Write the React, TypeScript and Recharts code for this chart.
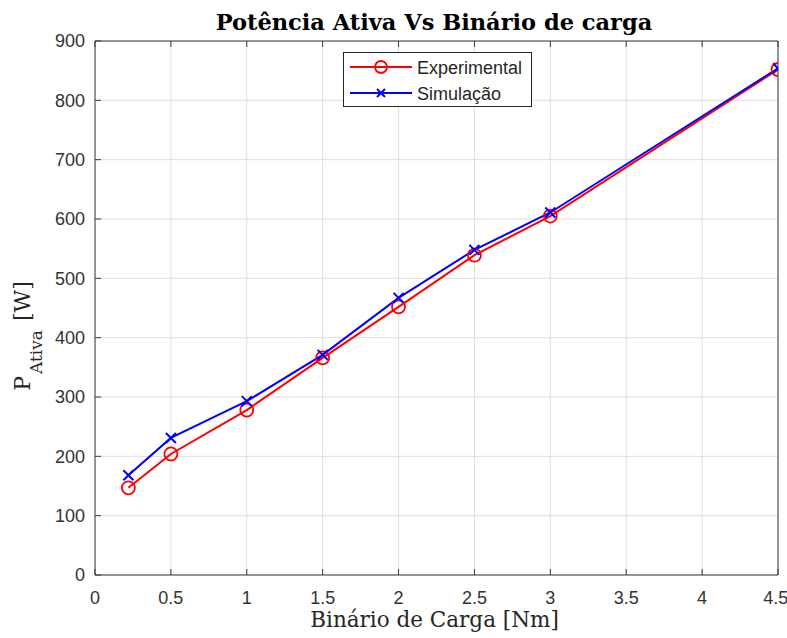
import React from 'react';
import { LineChart, Line, XAxis, YAxis, CartesianGrid, Legend, Label } from 'recharts';

const torque = [0.22, 0.5, 1, 1.5, 2, 2.5, 3, 4.5];
const experimental = [147, 204, 278, 366, 452, 539, 605, 852];
const simulation = [168, 231, 293, 371, 467, 548, 611, 854];
const xTicks = [0, 0.5, 1, 1.5, 2, 2.5, 3, 3.5, 4, 4.5];
const yTicks = [0, 100, 200, 300, 400, 500, 600, 700, 800, 900];
const seriesNames = ['Experimental', 'Simulação'];
const titleText = 'Potência Ativa Vs Binário de carga';
const xLabelText = 'Binário de Carga [Nm]';

const data = torque.map((t, i) => ({ t, exp: experimental[i], sim: simulation[i] }));

const RED = '#ff0000';
const BLUE = '#0000ff';
const AXIS = '#3a3a3a';
const SANS = '"Liberation Sans", Arial, Helvetica, sans-serif';
const SERIF = '"DejaVu Serif", Georgia, serif';

const CircleDot = (props: any) => {
  const { cx, cy } = props;
  if (cx == null || cy == null) return null;
  return <circle cx={cx} cy={cy} r={6.5} fill="none" stroke={RED} strokeWidth={1.8} />;
};

const CrossDot = (props: any) => {
  const { cx, cy } = props;
  if (cx == null || cy == null) return null;
  const s = 5;
  return (
    <path
      d={`M${cx - s},${cy - s}L${cx + s},${cy + s}M${cx - s},${cy + s}L${cx + s},${cy - s}`}
      stroke={BLUE}
      strokeWidth={2}
      fill="none"
    />
  );
};

const LegendBox = () => (
  <svg width={189} height={55} style={{ display: 'block' }}>
    <rect x={0.5} y={0.5} width={188} height={54} fill="#fff" stroke="#262626" strokeWidth={1} />
    <line x1={7} y1={15} x2={69} y2={15} stroke={RED} strokeWidth={2} />
    <circle cx={38} cy={15} r={6} fill="none" stroke={RED} strokeWidth={1.8} />
    <text x={74} y={22} fontFamily={SANS} fontSize={18} fill="#262626">{seriesNames[0]}</text>
    <line x1={7} y1={41} x2={69} y2={41} stroke={BLUE} strokeWidth={2} />
    <path d="M34,37L42,45M34,45L42,37" stroke={BLUE} strokeWidth={2} />
    <text x={74} y={48} fontFamily={SANS} fontSize={18} fill="#262626">{seriesNames[1]}</text>
  </svg>
);

const XLabel = (props: any) => {
  const vb = props.viewBox || {};
  const cx = vb.x + vb.width / 2;
  return (
    <text x={cx - 2} y={vb.y + 52} textAnchor="middle" fontFamily={SERIF} fontSize={21.5} fill="#262626">
      {xLabelText}
    </text>
  );
};

const YLabel = (props: any) => {
  const vb = props.viewBox || {};
  const x = vb.x - 5;
  const y = vb.y + vb.height / 2 + 28;
  return (
    <text
      x={x}
      y={y}
      textAnchor="middle"
      fontFamily={SERIF}
      fontSize={22}
      fill="#262626"
      transform={`rotate(-90, ${x}, ${y})`}
    >
      <tspan>P</tspan>
      <tspan fontSize={17} dy={12} dx={2}>Ativa</tspan>
      <tspan dy={-12} dx={2}> [W]</tspan>
    </text>
  );
};

export default function App() {
  return (
    <div style={{ position: 'absolute', left: 0, top: 0, width: 787, height: 638, background: '#fff' }}>
      <LineChart
        width={787}
        height={638}
        data={data}
        margin={{ top: 36, right: 4, bottom: 33, left: 35 }}
      >
        <CartesianGrid xAxisId="bottom" yAxisId="left" stroke="#dedede" strokeWidth={1} />
        <XAxis
          xAxisId="bottom"
          dataKey="t"
          type="number"
          domain={[0, 4.5]}
          ticks={xTicks}
          orientation="bottom"
          height={30}
          tickSize={-6}
          tickMargin={22}
          stroke={AXIS}
          tick={{ fill: '#333', fontFamily: SANS, fontSize: 18 }}
          allowDataOverflow
        >
          <Label content={XLabel} />
        </XAxis>
        <XAxis
          xAxisId="top"
          dataKey="t"
          type="number"
          domain={[0, 4.5]}
          ticks={xTicks}
          orientation="top"
          height={5}
          tickSize={-6}
          tickFormatter={() => ''}
          stroke={AXIS}
        />
        <YAxis
          yAxisId="left"
          type="number"
          domain={[0, 900]}
          ticks={yTicks}
          orientation="left"
          width={60}
          tickSize={-6}
          tickMargin={16}
          stroke={AXIS}
          tick={{ fill: '#333', fontFamily: SANS, fontSize: 18 }}
        >
          <Label content={YLabel} />
        </YAxis>
        <YAxis
          yAxisId="right"
          type="number"
          domain={[0, 900]}
          ticks={yTicks}
          orientation="right"
          width={5}
          tickSize={-6}
          tickFormatter={() => ''}
          stroke={AXIS}
        />
        <Legend
          layout="vertical"
          align="center"
          verticalAlign="middle"
          content={LegendBox}
          wrapperStyle={{ position: 'absolute', left: 343, top: 52, width: 189, height: 55 }}
        />
        <Line
          xAxisId="bottom"
          yAxisId="left"
          type="linear"
          dataKey="exp"
          name={seriesNames[0]}
          stroke={RED}
          strokeWidth={2}
          dot={CircleDot}
          activeDot={false}
          isAnimationActive={false}
        />
        <Line
          xAxisId="bottom"
          yAxisId="left"
          type="linear"
          dataKey="sim"
          name={seriesNames[1]}
          stroke={BLUE}
          strokeWidth={2}
          dot={CrossDot}
          activeDot={false}
          isAnimationActive={false}
        />
      </LineChart>
      <svg width={787} height={40} style={{ position: 'absolute', left: 0, top: 0 }}>
        <text x={434} y={30} textAnchor="middle" fontFamily={SERIF} fontWeight="bold" fontSize={22.5} fill="#000">
          {titleText}
        </text>
      </svg>
    </div>
  );
}
